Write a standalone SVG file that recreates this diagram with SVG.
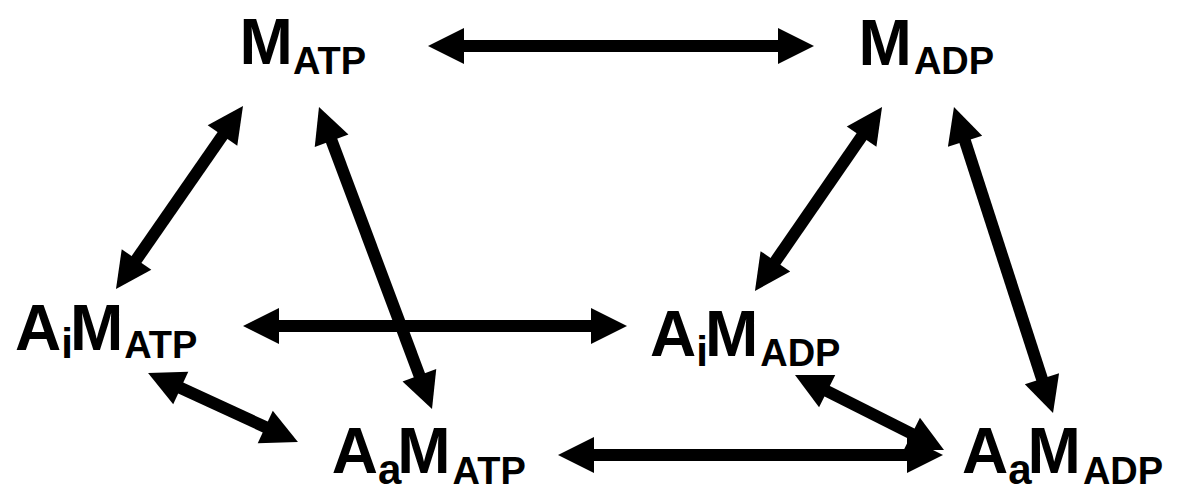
<svg xmlns="http://www.w3.org/2000/svg" width="1178" height="491" viewBox="0 0 1178 491">
  <style>
    .lbl { font-family: "Liberation Sans", Arial, sans-serif; font-weight: bold; fill: #000; }
    .main { font-size: 64px; }
    .sub { font-size: 38px; }
    .idx { font-size: 42px; }
    .conn line { stroke: #000; stroke-width: 12; marker-start: url(#head); marker-end: url(#head); }
  </style>
  <defs>
    <marker id="head" markerUnits="userSpaceOnUse" orient="auto-start-reverse" refX="0" refY="0" markerWidth="50" markerHeight="40" viewBox="-10 -20 50 40" overflow="visible">
      <path d="M30,0 L-6,-18 L-6,18 Z" fill="#000"/>
    </marker>
  </defs>

  <!-- connectors: every reaction is reversible -->
  <g id="connectors" class="conn">
    <line x1="458" y1="46" x2="784" y2="46"/>
    <line x1="273" y1="326" x2="597" y2="326"/>
    <line x1="588" y1="455" x2="913" y2="455"/>
    <line x1="225.9" y1="130.6" x2="133.1" y2="264.4"/>
    <line x1="329.5" y1="135.1" x2="421.5" y2="380.9"/>
    <line x1="865" y1="131.7" x2="772" y2="266.3"/>
    <line x1="963.2" y1="135.5" x2="1043.8" y2="384.5"/>
    <line x1="175.3" y1="385.5" x2="270.7" y2="429.5"/>
    <line x1="821.8" y1="388.5" x2="917.2" y2="436.5"/>
  </g>

  <g id="M_ATP">
    <text class="lbl" x="239.6" y="64"><tspan class="main">M</tspan><tspan class="sub" dy="10">ATP</tspan></text>
  </g>
  <g id="M_ADP">
    <text class="lbl" x="858.6" y="65"><tspan class="main">M</tspan><tspan class="sub" dy="9" dx="2">ADP</tspan></text>
  </g>
  <g id="AiM_ATP">
    <text class="lbl" x="15" y="350"><tspan class="main">A</tspan><tspan class="idx" dy="8">i</tspan><tspan class="main" dy="-8" dx="-3">M</tspan><tspan class="sub" dy="8" dx="1">ATP</tspan></text>
  </g>
  <g id="AiM_ADP">
    <text class="lbl" x="650" y="356"><tspan class="main">A</tspan><tspan class="idx" dy="10">i</tspan><tspan class="main" dy="-10" dx="-3">M</tspan><tspan class="sub" dy="10" dx="2">ADP</tspan></text>
  </g>
  <g id="AaM_ATP">
    <text class="lbl" x="331.7" y="473"><tspan class="main">A</tspan><tspan class="idx" dy="11">a</tspan><tspan class="main" dy="-11" dx="-4">M</tspan><tspan class="sub" dy="11" dx="2">ATP</tspan></text>
  </g>
  <g id="AaM_ADP">
    <text class="lbl" x="962" y="473"><tspan class="main">A</tspan><tspan class="idx" dy="11">a</tspan><tspan class="main" dy="-11" dx="-4">M</tspan><tspan class="sub" dy="11" dx="2">ADP</tspan></text>
  </g>
</svg>
